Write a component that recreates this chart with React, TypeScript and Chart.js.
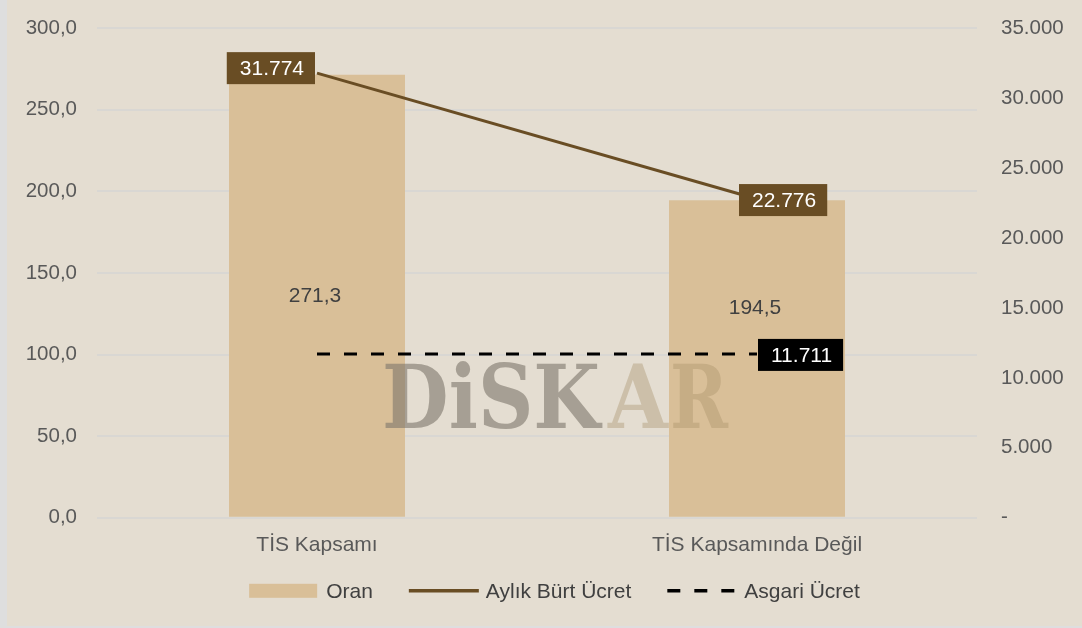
import React, { useEffect, useRef } from "react";
import { Chart, registerables } from "chart.js";

Chart.register(...registerables);

const categories = ["TİS Kapsamı", "TİS Kapsamında Değil"];
const oranValues = [271.3, 194.5];
const ucretValues = [31774, 22776];
const asgariValues = [11711, 11711];
const leftTicksMax = 300;
const rightTicksMax = 35000;

const BG = "#E4DDD1";
const BAR = "#D9BF98";
const BROWN = "#694D24";
const TEXT = "#404040";
const AXIS_TEXT = "#595959";
const FONT = "'Liberation Sans', Arial, sans-serif";
// vertical nudge of the bar value labels (px), as placed in the original
const BAR_LABEL_NUDGE = [0, -50];

const fmtLeft = (v: number) => v.toFixed(1).replace(".", ",");
const fmtThousands = (v: number) =>
  v === 0 ? "-" : Math.round(v).toString().replace(/\B(?=(\d{3})+(?!\d))/g, ".");

const watermarkPlugin = {
  id: "watermark",
  afterDatasetsDraw(chart: any) {
    const { ctx, chartArea } = chart;
    const w = chartArea.right - chartArea.left;
    const h = chartArea.bottom - chartArea.top;
    const left = chartArea.left + w * 0.324;
    const baseline = chartArea.top + h * 0.816;
    ctx.save();
    ctx.font = `bold 88px 'DejaVu Serif', serif`;
    ctx.textBaseline = "alphabetic";
    ctx.textAlign = "left";
    const part1 = "DiSK";
    const m1 = ctx.measureText(part1).width;
    ctx.save();
    ctx.translate(left, baseline);
    ctx.scale(218 / m1, 1);
    ctx.fillStyle = "rgba(125,118,106,0.6)";
    ctx.fillText(part1, 0, 0);
    ctx.restore();
    const m2 = ctx.measureText("A").width;
    ctx.save();
    ctx.translate(left + 226, baseline);
    ctx.scale(60 / m2, 1);
    ctx.fillStyle = "rgba(175,155,120,0.45)";
    ctx.fillText("A", 0, 0);
    ctx.restore();
    const m3 = ctx.measureText("R").width;
    ctx.save();
    ctx.translate(left + 288, baseline);
    ctx.scale(58 / m3, 1);
    ctx.fillStyle = "rgba(175,150,110,0.45)";
    ctx.fillText("R", 0, 0);
    ctx.restore();
    ctx.restore();
  },
};

const labelsPlugin = {
  id: "valueLabels",
  afterDatasetsDraw(chart: any) {
    const { ctx } = chart;
    ctx.save();
    ctx.font = `21px ${FONT}`;
    ctx.textBaseline = "middle";
    ctx.textAlign = "center";

    const barMeta = chart.getDatasetMeta(0);
    barMeta.data.forEach((el: any, i: number) => {
      ctx.fillStyle = TEXT;
      ctx.fillText(fmtLeft(oranValues[i]), el.x - 2, (el.y + el.base) / 2 + (BAR_LABEL_NUDGE[i] || 0));
    });

    const drawBox = (text: string, left: number, cy: number, fill: string) => {
      const tw = ctx.measureText(text).width;
      const bw = tw + 24;
      const bh = 32;
      ctx.fillStyle = fill;
      ctx.fillRect(left, cy - bh / 2, bw, bh);
      ctx.fillStyle = "#FFFFFF";
      ctx.fillText(text, left + bw / 2 + 1, cy + 1);
      return bw;
    };

    const lineMeta = chart.getDatasetMeta(1);
    lineMeta.data.forEach((pt: any, i: number) => {
      const text = fmtThousands(ucretValues[i]);
      const bw = ctx.measureText(text).width + 24;
      if (i === 0) drawBox(text, pt.x - 2 - bw, pt.y - 5, BROWN);
      else drawBox(text, pt.x - 18, pt.y + 1, BROWN);
    });

    const asgMeta = chart.getDatasetMeta(2);
    const last = asgMeta.data[asgMeta.data.length - 1];
    drawBox(fmtThousands(asgariValues[asgariValues.length - 1]), last.x + 1, last.y + 1, "#000000");
    ctx.restore();
  },
};

// custom legend drawn below the x axis
const legendPlugin = {
  id: "customLegend",
  afterDraw(chart: any) {
    const { ctx, width } = chart;
    const sets = chart.data.datasets;
    ctx.save();
    ctx.font = `21px ${FONT}`;
    ctx.textBaseline = "middle";
    ctx.textAlign = "left";
    const sw = 70;
    const gapText = 7;
    const gapItem = 36;
    const widths = sets.map((ds: any) => sw + gapText + ctx.measureText(ds.label).width);
    const total = widths.reduce((a: number, b: number) => a + b, 0) + gapItem * (sets.length - 1);
    let x = width / 2 + 10 - total / 2;
    const cy = chart.chartArea.bottom + 73;
    sets.forEach((ds: any, i: number) => {
      if (ds.type === "bar") {
        ctx.fillStyle = ds.backgroundColor;
        ctx.fillRect(x, cy - 7, sw - 2, 14);
      } else {
        ctx.strokeStyle = ds.borderColor;
        ctx.lineWidth = ds.borderWidth + 0.5;
        ctx.setLineDash(ds.borderDash || []);
        ctx.beginPath();
        ctx.moveTo(x, cy);
        ctx.lineTo(x + sw, cy);
        ctx.stroke();
        ctx.setLineDash([]);
      }
      ctx.fillStyle = TEXT;
      ctx.fillText(ds.label, x + sw + gapText, cy + 1);
      x += widths[i] + gapItem;
    });
    ctx.restore();
  },
};

export default function App() {
  const canvasRef = useRef<HTMLCanvasElement | null>(null);

  useEffect(() => {
    if (!canvasRef.current) return;
    const datasets: any[] = [
      {
        type: "bar",
        label: "Oran",
        data: oranValues,
        backgroundColor: BAR,
        borderWidth: 0,
        yAxisID: "y",
        order: 3,
        barPercentage: 0.4,
        categoryPercentage: 1,
      },
      {
        type: "line",
        label: "Aylık Bürt Ücret",
        data: ucretValues,
        borderColor: BROWN,
        backgroundColor: BROWN,
        borderWidth: 3,
        pointRadius: 0,
        yAxisID: "y1",
        order: 1,
      },
      {
        type: "line",
        label: "Asgari Ücret",
        data: asgariValues,
        borderColor: "#000000",
        backgroundColor: "#000000",
        borderWidth: 3,
        borderDash: [13, 14],
        pointRadius: 0,
        yAxisID: "y1",
        order: 2,
      },
    ];

    const chart = new Chart(canvasRef.current, {
      data: { labels: categories, datasets },
      plugins: [watermarkPlugin, labelsPlugin, legendPlugin],
      options: {
        animation: false,
        responsive: true,
        maintainAspectRatio: false,
        layout: { padding: { top: 28, left: 0, right: 0, bottom: 53 } },
        plugins: {
          tooltip: { enabled: false },
          legend: { display: false },
        },
        scales: {
          x: {
            grid: { display: false, drawTicks: false },
            border: { display: false },
            ticks: { color: AXIS_TEXT, font: { family: FONT, size: 21 }, padding: 15 },
          },
          y: {
            type: "linear",
            position: "left",
            min: 0,
            max: leftTicksMax,
            ticks: {
              stepSize: 50,
              color: AXIS_TEXT,
              font: { family: FONT, size: 20.5 },
              padding: 20,
              callback: (v: any) => fmtLeft(Number(v)),
            },
            grid: { color: "#D9D7D3", lineWidth: 2, drawTicks: false },
            border: { display: false },
            afterFit: (s: any) => {
              s.width = 90;
              s.paddingTop = 0;
              s.paddingBottom = 0;
            },
          },
          y1: {
            type: "linear",
            position: "right",
            min: 0,
            max: rightTicksMax,
            ticks: {
              stepSize: 5000,
              color: AXIS_TEXT,
              font: { family: FONT, size: 20.5 },
              padding: 24,
              callback: (v: any) => fmtThousands(Number(v)),
            },
            grid: { display: false, drawTicks: false },
            border: { display: false },
            afterFit: (s: any) => {
              s.width = 105;
              s.paddingTop = 0;
              s.paddingBottom = 0;
            },
          },
        },
      } as any,
    } as any);
    return () => chart.destroy();
  }, []);

  return (
    <div style={{ position: "fixed", inset: 0, background: "#DEDEDE" }}>
      <div
        style={{
          position: "absolute",
          left: 7,
          top: 0,
          width: 1075,
          height: 626,
          background: BG,
        }}
      >
        <canvas ref={canvasRef} />
      </div>
    </div>
  );
}
